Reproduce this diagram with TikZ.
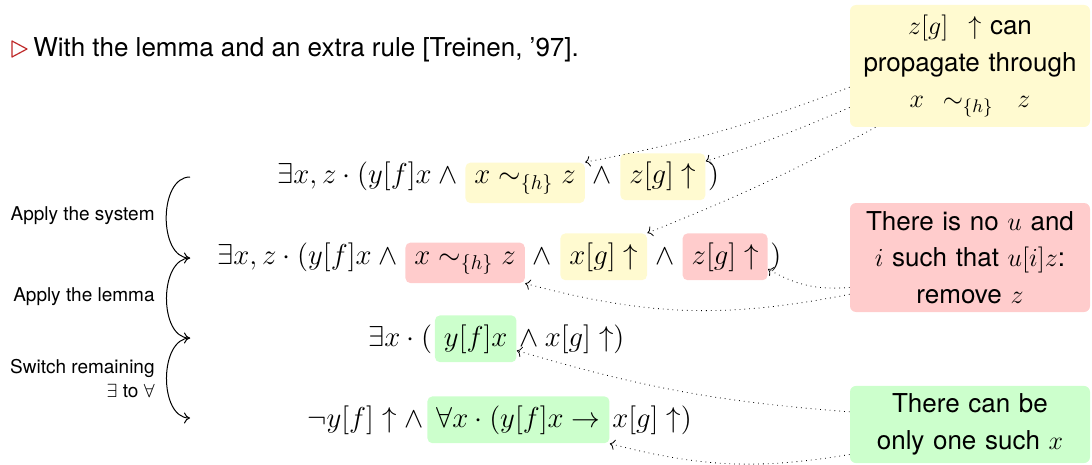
\RequirePackage{fix-cm}
\documentclass[tikz,border=0pt]{standalone}
\usepackage[no-math]{fontspec}
\setmainfont{TeX Gyre Heros}
\usetikzlibrary{arrows.meta,calc}
\definecolor{hlyellow}{RGB}{255,250,208}
\definecolor{hlred}{RGB}{255,204,204}
\definecolor{hlgreen}{RGB}{204,255,204}
\definecolor{bulletred}{RGB}{190,40,40}
\newcommand\mathfs{\fontsize{14.4}{18}\selectfont}
\newcommand\notefs{\fontsize{13}{18.25}\selectfont}
\newcommand\labfs{\fontsize{9.5}{12}\selectfont}
\tikzset{
  plain/.style={inner sep=0pt, anchor=base west, font=\mathfs},
  hl/.style={inner sep=4.5pt, rounded corners=2.5pt, anchor=base west, font=\mathfs},
  note/.style={rounded corners=3pt, text width=112pt, align=center, minimum width=120pt, inner sep=4pt, font=\notefs},
  lab/.style={inner sep=0pt, anchor=east, font=\labfs},
  link/.style={dotted, ->},
  brace/.style={-{To[length=3pt,width=5.5pt]}, line width=0.5pt},
}
\begin{document}
\begin{tikzpicture}[x=0.5pt,y=-0.5pt]
\useasboundingbox (0,0) rectangle (1092,465);
% heading
\draw[bulletred, line width=0.6pt, line join=round] (12,41) -- (27,49) -- (12,57) -- cycle;
\node[anchor=base west, inner sep=0pt, font=\fontsize{13}{15.6}\selectfont] (head) at (33,57) {With the lemma and an extra rule [Treinen, '97].};
% line 1
\node[plain] (l1a) at (277,184) {$\exists x, z \cdot (y[f]x \wedge{}$};
\node[hl, fill=hlyellow] (b1a) at ([xshift=0.5pt]l1a.base east) {$x \sim_{\{h\}} z$};
\node[plain] (l1b) at ([xshift=0.5pt]b1a.base east) {${}\wedge{}$};
\node[hl, fill=hlyellow] (b1b) at ([xshift=0.5pt]l1b.base east) {$z[g]\uparrow$};
\node[plain] (l1c) at ([xshift=1pt]b1b.base east) {$)$};
% line 2
\node[plain] (l2a) at (217,264) {$\exists x, z \cdot (y[f]x \wedge{}$};
\node[hl, fill=hlred] (b2a) at ([xshift=0.5pt]l2a.base east) {$x \sim_{\{h\}} z$};
\node[plain] (l2b) at ([xshift=0.5pt]b2a.base east) {${}\wedge{}$};
\node[hl, fill=hlyellow] (b2b) at ([xshift=0.5pt]l2b.base east) {$x[g]\uparrow$};
\node[plain] (l2c) at ([xshift=0.5pt]b2b.base east) {${}\wedge{}$};
\node[hl, fill=hlred] (b2c) at ([xshift=0.5pt]l2c.base east) {$z[g]\uparrow$};
\node[plain] (l2d) at ([xshift=1pt]b2c.base east) {$)$};
% line 3
\node[plain] (l3a) at (368,346) {$\exists x \cdot ($};
\node[hl, fill=hlgreen] (b3) at ([xshift=1pt]l3a.base east) {$y[f]x$};
\node[plain] (l3b) at ([xshift=1pt]b3.base east) {$\wedge\: x[g]\uparrow)$};
% line 4
\node[plain] (l4a) at (307,427) {$\neg y[f]\uparrow \wedge$};
\node[hl, fill=hlgreen] (b4) at ([xshift=1.5pt]l4a.base east) {$\forall x \cdot (y[f]x \to$};
\node[plain] (l4b) at ([xshift=1pt]b4.base east) {$x[g]\uparrow)$};
% left labels and braces
\node[lab] (s1) at (155,216) {Apply the system};
\node[lab] (s2) at (155,297) {Apply the lemma};
\node[lab, align=right] (s3) at (155,379) {Switch remaining\\ $\exists$ to $\forall$};
\coordinate (c1) at (190,177);
\coordinate (c2) at (190,258);
\coordinate (c3) at (190,338);
\coordinate (c4) at (190,418);
\draw[brace] (c1) to[out=180,in=180] (c2);
\draw[brace] (c2) to[out=180,in=180] (c3);
\draw[brace] (c3) to[out=180,in=180] (c4);
% notes
\node[note, fill=hlyellow, minimum height=61pt] (ny) at (970,66) {$z[g]$\hspace{10pt}$\uparrow$ can\\ propagate through\\ $x\,\sim_{\{h\}}$\hspace{12pt}$z$};
\node[note, fill=hlred, minimum height=54.5pt] (nr) at (970,257.5) {There is no $u$ and\\ $i$ such that $u[i]z$:\\ remove $z$};
\node[note, fill=hlgreen, minimum height=37.5pt] (ng) at (970,424.5) {There can be\\ only one such $x$};
% links
\draw[link] (ny.190) to[bend left=5] (b1a.north east);
\draw[link] (ny.199) to[bend left=3] (b1b.20);
\draw[link] (ny.213) to[bend left=3] (b2b.north east);
\draw[link] (nr.194) to[bend left=17] (b2c.-16);
\draw[link] (nr.197) to[bend left=13] (b2a.south east);
\draw[link] (ng.174) to[bend left=6] (b3.-16);
\draw[link] (ng.194) to[bend left=12] (b4.south east);
\end{tikzpicture}
\end{document}
